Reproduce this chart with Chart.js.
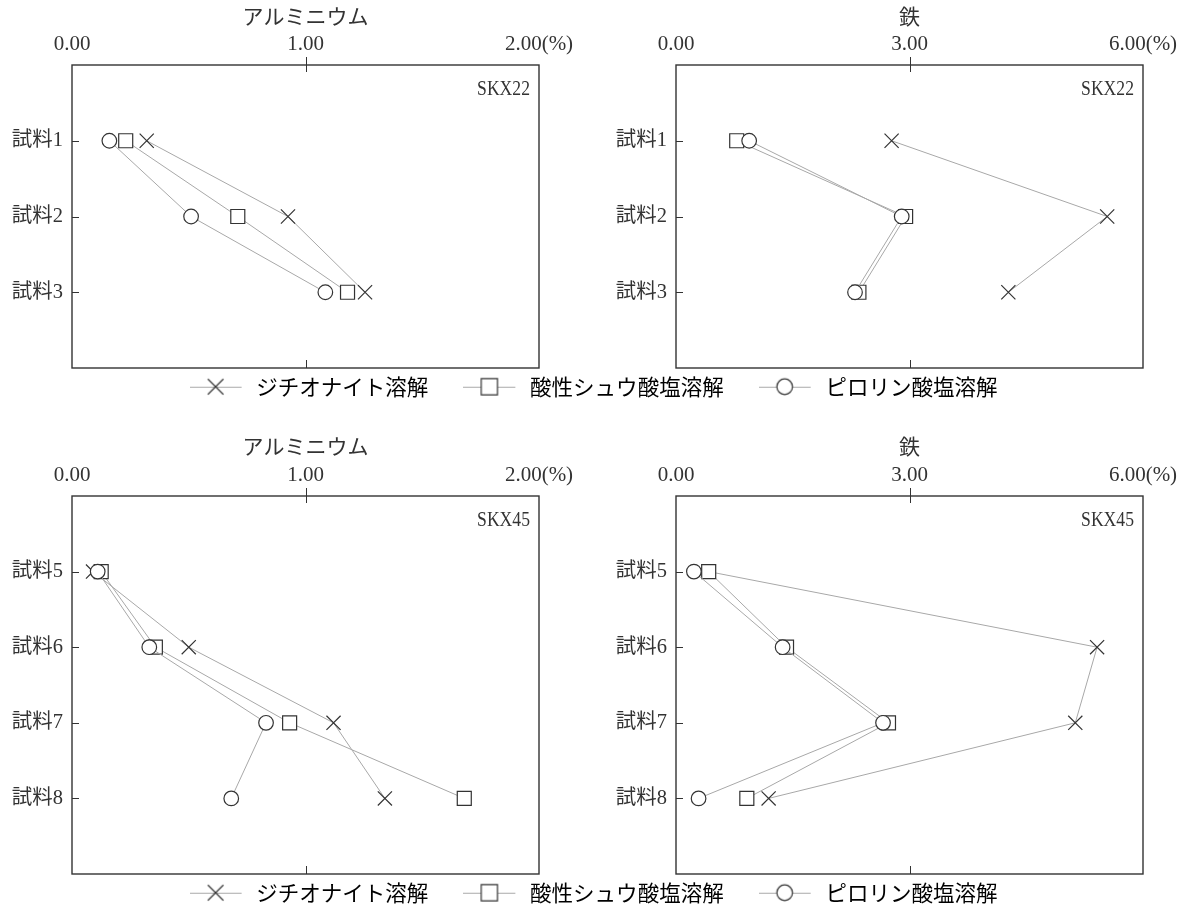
<!DOCTYPE html>
<html lang="ja">
<head>
<meta charset="utf-8">
<title>アルミニウム・鉄</title>
<script src="https://cdn.jsdelivr.net/npm/chart.js@4.4.1/dist/chart.umd.min.js"></script>
<style>
  html, body { margin: 0; padding: 0; background: #fff; }
  #page { position: relative; width: 1183px; height: 906px; overflow: hidden; }
  #page canvas { position: absolute; display: block; }
</style>
</head>
<body>
<div id="page">
  <canvas id="al22" width="591" height="400" style="left:0;top:0"></canvas>
  <canvas id="fe22" width="592" height="400" style="left:591px;top:0"></canvas>
  <canvas id="al45" width="591" height="476" style="left:0;top:430px"></canvas>
  <canvas id="fe45" width="592" height="476" style="left:591px;top:430px"></canvas>
  <canvas id="legendTop" width="1183" height="220" style="left:2px;top:341px"></canvas>
  <canvas id="legendBottom" width="1183" height="220" style="left:2px;top:847px"></canvas>
</div>
<script>
const seriesNames = ['ジチオナイト溶解', '酸性シュウ酸塩溶解', 'ピロリン酸塩溶解']

const samplesTop = ['試料1', '試料2', '試料3']
const samplesBottom = ['試料5', '試料6', '試料7', '試料8']

// x axes (%)
const alTicks = [0, 1, 2]
const alTickLabels = ['0.00', '1.00', '2.00(%)']
const feTicks = [0, 3, 6]
const feTickLabels = ['0.00', '3.00', '6.00(%)']

// SKX22
const al22Dithionite = [0.32, 0.925, 1.255]
const al22Oxalate = [0.23, 0.71, 1.18]
const al22Pyro = [0.16, 0.51, 1.085]
const fe22Dithionite = [2.77, 5.54, 4.27]
const fe22Oxalate = [0.78, 2.95, 2.35]
const fe22Pyro = [0.94, 2.90, 2.30]

// SKX45
const al45Dithionite = [0.09, 0.50, 1.12, 1.34]
const al45Oxalate = [0.125, 0.357, 0.932, 1.68]
const al45Pyro = [0.11, 0.331, 0.831, 0.682]
const fe45Dithionite = [0.42, 5.41, 5.13, 1.19]
const fe45Oxalate = [0.42, 1.42, 2.73, 0.91]
const fe45Pyro = [0.23, 1.37, 2.66, 0.29]

const ink = '#333'
const lineGray = '#a8a8a8'
const serif = "'Liberation Serif', 'Noto Sans CJK JP', serif"
const jp = "'Noto Sans CJK JP', sans-serif"

// cross, square, circle
const markers = [
    { pointStyle: 'crossRot', radius: 10, legendRadius: 11 },
    { pointStyle: 'rect', radius: 9.9, legendRadius: 11.5 },
    { pointStyle: 'circle', radius: 7.3, legendRadius: 7.8 },
]

// box round the plot, inner ticks and the SKX name
const framePlugin = {
    id: 'frame',
    beforeDatasetsDraw(chart, args, opts) {
        const { ctx, chartArea: a, scales: { x, y } } = chart
        ctx.save()
        ctx.strokeStyle = ink
        ctx.lineWidth = 1.4
        ctx.strokeRect(a.left, a.top, a.right - a.left, a.bottom - a.top)
        ctx.lineWidth = 1
        ctx.beginPath()
        for (let t of x.ticks) {
            if (t.value === x.min || t.value === x.max) continue
            const px = Math.round(x.getPixelForValue(t.value)) + 0.5
            ctx.moveTo(px, a.top - 8)
            ctx.lineTo(px, a.top + 7)
            ctx.moveTo(px, a.bottom)
            ctx.lineTo(px, a.bottom - 8)
        }
        for (let t of y.ticks) {
            const py = Math.round(y.getPixelForValue(t.value)) + 0.5
            ctx.moveTo(a.left, py)
            ctx.lineTo(a.left + 7, py)
        }
        ctx.stroke()

        ctx.fillStyle = ink
        ctx.font = '21px ' + serif
        ctx.textAlign = 'right'
        ctx.textBaseline = 'middle'
        ctx.translate(a.right - 9, a.top + 24)
        ctx.scale(0.84, 1)
        ctx.fillText(opts.text, 0, 0)
        ctx.restore()
    }
}

function createPanel(id, samples, values, ticks, tickLabels, title, name, area) {
    const canvas = document.getElementById(id)
    const datasets = values.map((vals, s) => ({
        label: seriesNames[s],
        data: vals.map((v, i) => ({ x: v, y: i + 1 })),
        borderColor: lineGray,
        borderWidth: 1,
        pointStyle: markers[s].pointStyle,
        pointRadius: markers[s].radius,
        pointBorderColor: ink,
        pointBackgroundColor: '#fff',
        pointBorderWidth: 1.2,
        tension: 0,
        order: 2 - s
    }))

    new Chart(canvas, {
        type: 'line',
        data: { datasets },
        plugins: [framePlugin],
        options: {
            responsive: false,
            animation: false,
            events: [],
            layout: {
                padding: { left: 0, top: 0, right: canvas.width - area.right, bottom: canvas.height - area.bottom }
            },
            scales: {
                x: {
                    type: 'linear',
                    position: 'top',
                    min: ticks[0],
                    max: ticks[ticks.length - 1],
                    afterBuildTicks: s => { s.ticks = ticks.map(v => ({ value: v })) },
                    afterFit: s => { s.height = area.top; s.paddingLeft = 0; s.paddingRight = 0 },
                    ticks: {
                        callback: (v, i) => tickLabels[i],
                        autoSkip: false,
                        maxRotation: 0,
                        padding: 8,
                        color: ink,
                        font: { family: serif, size: 21 }
                    },
                    grid: { display: false, drawTicks: false },
                    border: { display: false },
                    title: {
                        display: true,
                        text: title,
                        color: ink,
                        font: { family: serif, size: 21 },
                        padding: { top: 6, bottom: 0 }
                    }
                },
                y: {
                    type: 'linear',
                    position: 'left',
                    reverse: true,
                    min: 0,
                    max: samples.length + 1,
                    afterBuildTicks: s => { s.ticks = samples.map((_, i) => ({ value: i + 1 })) },
                    afterFit: s => { s.width = area.left; s.paddingTop = 0; s.paddingBottom = 0 },
                    ticks: {
                        callback: (v, i) => samples[i],
                        autoSkip: false,
                        padding: 9,
                        color: ink,
                        font: { family: serif, size: 20.5 }
                    },
                    grid: { display: false, drawTicks: false },
                    border: { display: false }
                }
            },
            plugins: {
                legend: { display: false },
                tooltip: { enabled: false },
                frame: { text: name }
            }
        }
    })
}

// legend symbol: short line with the marker in the middle
function legendIcon(m) {
    const c = document.createElement('canvas')
    c.width = 56
    c.height = 24
    const ctx = c.getContext('2d')
    ctx.strokeStyle = lineGray
    ctx.lineWidth = 1
    ctx.beginPath()
    ctx.moveTo(0, 12.5)
    ctx.lineTo(52, 12.5)
    ctx.stroke()
    ctx.strokeStyle = ink
    ctx.fillStyle = '#fff'
    ctx.lineWidth = 1.2
    Chart.helpers.drawPoint(ctx, { pointStyle: m.pointStyle, radius: m.legendRadius, borderWidth: 1.2, rotation: 0 }, 26, 12)
    return c
}

function createLegend(id) {
    const icons = markers.map(legendIcon)
    new Chart(document.getElementById(id), {
        type: 'line',
        data: { datasets: seriesNames.map(n => ({ label: n, data: [] })) },
        options: {
            responsive: false,
            animation: false,
            events: [],
            scales: { x: { display: false }, y: { display: false } },
            plugins: {
                tooltip: { enabled: false },
                legend: {
                    position: 'top',
                    labels: {
                        usePointStyle: true,
                        pointStyleWidth: 56,
                        padding: 35,
                        color: ink,
                        font: { family: jp, size: 21.5 },
                        generateLabels: () => seriesNames.map((n, i) => ({
                            text: n,
                            pointStyle: icons[i],
                            datasetIndex: i,
                            hidden: false,
                            lineWidth: 0,
                            fillStyle: 'transparent',
                            strokeStyle: 'transparent'
                        }))
                    }
                }
            }
        }
    })
}

createPanel('al22', samplesTop, [al22Dithionite, al22Oxalate, al22Pyro], alTicks, alTickLabels,
    'アルミニウム', 'SKX22', { left: 72, top: 65, right: 539, bottom: 368 })
createPanel('fe22', samplesTop, [fe22Dithionite, fe22Oxalate, fe22Pyro], feTicks, feTickLabels,
    '鉄', 'SKX22', { left: 85, top: 65, right: 552, bottom: 368 })
createPanel('al45', samplesBottom, [al45Dithionite, al45Oxalate, al45Pyro], alTicks, alTickLabels,
    'アルミニウム', 'SKX45', { left: 72, top: 66, right: 539, bottom: 444 })
createPanel('fe45', samplesBottom, [fe45Dithionite, fe45Oxalate, fe45Pyro], feTicks, feTickLabels,
    '鉄', 'SKX45', { left: 85, top: 66, right: 552, bottom: 444 })

createLegend('legendTop')
createLegend('legendBottom')
</script>
</body>
</html>
